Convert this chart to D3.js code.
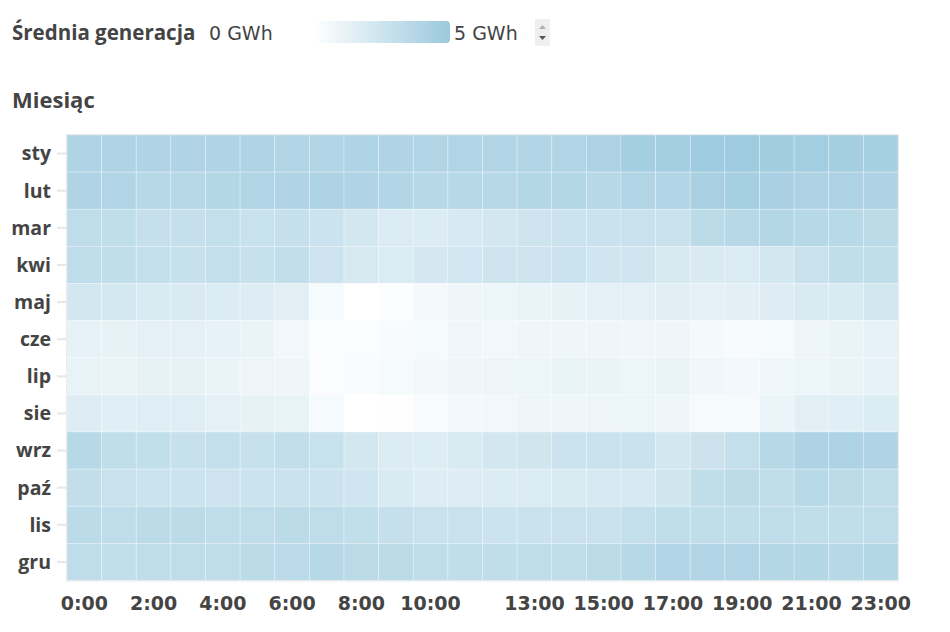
<!DOCTYPE html>
<html>
<head>
<meta charset="utf-8">
<script src="https://cdn.jsdelivr.net/npm/d3@7"></script>
<style>
  html, body { margin: 0; padding: 0; background: #ffffff; }
  svg { display: block; font-family: "Open Sans", "Noto Sans", sans-serif; }
</style>
</head>
<body>
<svg id="chart" width="950" height="632"></svg>
<script>
// ---- data ----
const months = ["sty", "lut", "mar", "kwi", "maj", "cze", "lip", "sie", "wrz", "paź", "lis", "gru"];
const hours = d3.range(0, 24);
const hourTickLabels = ["0:00", "2:00", "4:00", "6:00", "8:00", "10:00", "13:00", "15:00", "17:00", "19:00", "21:00", "23:00"];
const hourTickValues = [0, 2, 4, 6, 8, 10, 13, 15, 17, 19, 21, 23];
const legendMin = 0;
const legendMax = 5;
const legendTitle = "Średnia generacja";
const axisTitle = "Miesiąc";

// average generation (GWh) per month (rows) and hour 0..23 (columns)
const sty = [4.0, 4.0, 3.95, 3.95, 3.95, 3.95, 3.9, 3.9, 4.0, 3.95, 3.85, 3.85, 3.85, 3.85, 3.85, 4.15, 4.55, 4.6, 4.85, 4.85, 4.65, 4.6, 4.5, 4.4];
const lut = [3.95, 3.85, 3.65, 3.65, 3.75, 3.85, 3.95, 4.05, 3.95, 3.8, 3.65, 3.65, 3.65, 3.75, 3.75, 3.65, 3.85, 3.85, 4.35, 4.45, 4.25, 4.15, 4.15, 4.05];
const mar = [3.25, 3.15, 2.9, 2.9, 3.0, 2.8, 2.9, 2.6, 2.25, 1.85, 1.8, 2.0, 2.25, 2.45, 2.6, 2.65, 2.75, 2.75, 3.35, 3.65, 3.75, 3.65, 3.55, 3.35];
const kwi = [3.25, 3.15, 2.95, 2.85, 2.95, 2.85, 3.05, 2.5, 2.05, 1.85, 2.1, 2.3, 2.5, 2.5, 2.6, 2.4, 2.4, 2.05, 1.9, 1.85, 2.25, 2.75, 3.15, 3.15];
const maj = [2.25, 2.15, 1.95, 1.9, 1.75, 1.65, 1.45, 0.5, 0.0, 0.15, 0.55, 0.85, 0.95, 1.1, 1.2, 1.35, 1.35, 1.5, 1.35, 1.45, 1.65, 1.95, 1.95, 2.25];
const cze = [1.25, 1.2, 1.35, 1.35, 1.25, 1.1, 0.7, 0.15, 0.25, 0.4, 0.5, 0.75, 0.7, 0.8, 0.85, 0.85, 0.75, 0.85, 0.55, 0.4, 0.5, 0.85, 1.05, 1.25];
const lip = [1.15, 1.1, 1.2, 1.2, 1.05, 0.9, 0.85, 0.25, 0.3, 0.5, 0.6, 0.8, 0.9, 0.95, 1.15, 1.1, 0.95, 1.1, 0.75, 0.65, 0.75, 0.95, 1.05, 1.25];
const sie = [1.65, 1.55, 1.6, 1.6, 1.35, 1.2, 1.15, 0.5, 0.0, 0.05, 0.3, 0.65, 0.7, 0.85, 0.85, 0.9, 0.95, 0.85, 0.45, 0.5, 1.0, 1.45, 1.55, 1.75];
const wrz = [3.6, 3.15, 3.1, 2.85, 2.95, 2.85, 3.05, 2.8, 2.25, 1.75, 1.7, 1.95, 2.2, 2.35, 2.6, 2.65, 2.65, 2.25, 2.55, 3.0, 3.6, 4.05, 4.05, 3.95];
const paz = [3.05, 2.75, 2.6, 2.6, 2.5, 2.6, 2.7, 2.6, 2.4, 1.95, 1.65, 1.65, 1.75, 1.85, 1.95, 2.0, 2.0, 2.35, 3.15, 3.35, 3.25, 3.55, 3.35, 3.25];
const lis = [3.35, 3.25, 3.35, 3.35, 3.25, 3.25, 3.35, 3.25, 3.1, 2.9, 2.75, 2.75, 2.6, 2.7, 2.75, 2.75, 2.95, 3.15, 3.15, 3.15, 3.25, 3.15, 3.15, 3.25];
const gru = [3.25, 3.1, 3.2, 3.2, 3.25, 3.35, 3.4, 3.6, 3.45, 3.45, 3.25, 3.15, 3.15, 3.25, 3.25, 3.35, 3.65, 3.85, 3.85, 3.85, 3.75, 3.75, 3.65, 3.75];
const seriesByMonth = [sty, lut, mar, kwi, maj, cze, lip, sie, wrz, paz, lis, gru];

// ---- layout ----
const svg = d3.select("#chart");
const plot = { left: 67, right: 898, top: 135, bottom: 580.5 };
const textColor = "#444444";
const maxColor = "#9bc9de";
const wideFont = "\"DejaVu Sans\", \"Open Sans\", sans-serif";

const x = d3.scaleBand().domain(hours).range([plot.left, plot.right]).padding(0);
const y = d3.scaleBand().domain(months).range([plot.top, plot.bottom]).padding(0);
const color = d3.scaleLinear().domain([legendMin, legendMax]).range(["#ffffff", maxColor]).interpolate(d3.interpolateRgb).clamp(true);

const cells = [];
months.forEach((m, i) => {
  hours.forEach(h => cells.push({ month: m, hour: h, value: seriesByMonth[i][h] }));
});

// ---- legend ----
const defs = svg.append("defs");
const grad = defs.append("linearGradient").attr("id", "legendGrad").attr("x1", "0%").attr("x2", "100%");
d3.range(0, 1.0001, 0.1).forEach(t => {
  grad.append("stop").attr("offset", (t * 100) + "%").attr("stop-color", color(legendMin + t * (legendMax - legendMin)));
});

svg.append("text").attr("x", 12).attr("y", 40)
  .attr("font-size", 20.5).attr("font-weight", 700).attr("fill", textColor).text(legendTitle);
svg.append("text").attr("x", 209).attr("y", 40)
  .attr("font-family", wideFont)
  .attr("font-size", 19).attr("font-weight", 400).attr("fill", textColor).text(legendMin + " GWh");

const legendScale = d3.scaleLinear().domain([legendMin, legendMax]).range([314, 450]);
svg.append("rect")
  .attr("x", legendScale(legendMin)).attr("y", 21)
  .attr("width", legendScale(legendMax) - legendScale(legendMin)).attr("height", 22)
  .attr("rx", 4).attr("fill", "url(#legendGrad)");
svg.append("text").attr("x", legendScale(legendMax) + 4).attr("y", 40)
  .attr("font-family", wideFont)
  .attr("font-size", 19).attr("font-weight", 400).attr("fill", textColor).text(legendMax + " GWh");

// spinner
const sp = svg.append("g").attr("transform", "translate(535,19)");
sp.append("rect").attr("width", 15).attr("height", 27).attr("fill", "#efefef");
sp.append("path").attr("d", "M4,10 L11,10 L7.5,6 Z").attr("fill", "#b0b0b0");
sp.append("path").attr("d", "M4,17 L11,17 L7.5,21 Z").attr("fill", "#555555");

// axis title
svg.append("text").attr("x", 12).attr("y", 108)
  .attr("font-size", 22).attr("font-weight", 700).attr("fill", textColor).text(axisTitle);

// ---- heatmap ----
svg.append("rect")
  .attr("x", plot.left - 0.5).attr("y", plot.top - 0.5)
  .attr("width", plot.right - plot.left + 1).attr("height", plot.bottom - plot.top + 1)
  .attr("fill", "none").attr("stroke", "#e8e8e8").attr("stroke-width", 1);

svg.append("g").selectAll("rect").data(cells).join("rect")
  .attr("x", d => x(d.hour))
  .attr("y", d => y(d.month))
  .attr("width", x.bandwidth())
  .attr("height", y.bandwidth())
  .attr("fill", d => color(d.value))
  .attr("stroke", "rgba(255,255,255,0.35)")
  .attr("stroke-width", 0.8);

// ---- y axis ----
const yAxis = d3.axisLeft(y).tickSize(9).tickPadding(6);
const gy = svg.append("g").attr("transform", `translate(${plot.left - 1},0)`).call(yAxis);
gy.select(".domain").remove();
gy.selectAll(".tick line").attr("stroke", "#e6e6e6").attr("stroke-width", 2);
gy.selectAll(".tick text")
  .attr("font-family", "\"Open Sans\", sans-serif")
  .attr("font-size", 19.5).attr("font-weight", 700).attr("fill", textColor)
  .attr("dy", "0.35em");

// ---- x axis ----
const xAxis = d3.axisBottom(x)
  .tickValues(hourTickValues)
  .tickFormat((d, i) => hourTickLabels[i])
  .tickSize(0).tickPadding(16);
const gx = svg.append("g").attr("transform", `translate(0,${plot.bottom})`).call(xAxis);
gx.select(".domain").remove();
gx.selectAll(".tick text")
  .attr("font-family", wideFont)
  .attr("font-size", 19).attr("font-weight", 700).attr("fill", textColor)
  .attr("dy", "0.71em");
</script>
</body>
</html>
